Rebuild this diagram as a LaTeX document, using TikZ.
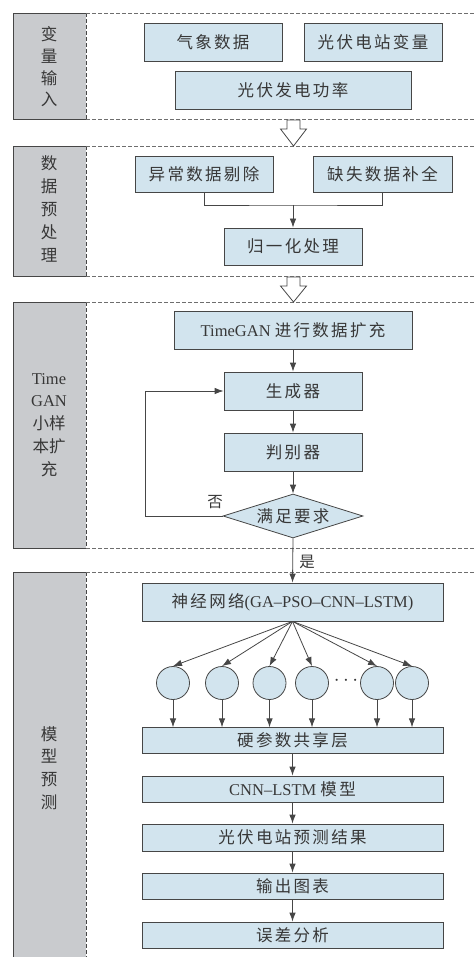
\documentclass[tikz,border=0pt]{standalone}
\usepackage{fontspec}
\setmainfont{Liberation Serif}
\newfontfamily\cjk[LetterSpace=14]{Noto Sans CJK SC}
\newfontfamily\cjks{Noto Sans CJK SC}
\usetikzlibrary{arrows.meta,shapes.geometric,calc}
\definecolor{boxblue}{RGB}{210,228,238}
\definecolor{sidegray}{RGB}{201,203,206}
\definecolor{linec}{RGB}{70,70,70}
\definecolor{dashc}{RGB}{110,110,110}
\definecolor{txt}{RGB}{55,55,55}
\begin{document}
\begin{tikzpicture}[x=1pt,y=-1pt,
  box/.style={draw=linec,fill=boxblue,line width=0.8pt,inner sep=0pt,text=txt,font=\fontsize{16.5}{20}\selectfont},
  arr/.style={draw=linec,line width=0.8pt,-{Latex[length=9pt,width=6.5pt]}},
  ln/.style={draw=linec,line width=0.8pt},
  dl/.style={draw=dashc,line width=0.7pt,dash pattern=on 4pt off 2pt},
  circ/.style={circle,draw=linec,fill=boxblue,line width=0.8pt,minimum size=33pt,inner sep=0pt},
  lbl/.style={text=txt,align=center,inner sep=0pt,font=\fontsize{16.5}{22.8}\selectfont},
  clbl/.style={text=txt,align=center,inner sep=0pt,font=\cjks\fontsize{16.5}{22.8}\selectfont},
  hollow/.style={draw=linec,fill=white,line width=0.8pt,line join=miter},
]
\useasboundingbox (0,0) rectangle (475,957);
% section frames
\foreach \t/\b in {13/119,146/276,302/548}{
  \fill[sidegray] (13,\t) rectangle (86,\b);
  \draw[ln] (86,\t) -- (13,\t) -- (13,\b) -- (86,\b);
  \draw[dl,draw=linec] (86,\t) -- (86,\b);
  \draw[dl] (86,\t) -- (475,\t);
  \draw[dl] (86,\b) -- (475,\b);
}
\fill[sidegray] (13,572) rectangle (86,957);
\draw[ln] (86,572) -- (13,572) -- (13,957);
\draw[dl,draw=linec] (86,572) -- (86,957);
\draw[dl] (86,572) -- (475,572);
% sidebar labels
\node[clbl,font=\cjks\fontsize{16.5}{21.7}\selectfont] (s1) at (49,67) {变\\量\\输\\入};
\node[clbl] (s2) at (49,209) {数\\据\\预\\处\\理};
\node[lbl] (s3) at (49,425) {Time\\GAN\\{\cjks 小样}\\{\cjks 本扩}\\{\cjks 充}};
\node[clbl] (s4) at (49,768) {模\\型\\预\\测};
% section 1
\node[box,minimum width=138pt,minimum height=38pt] (qx) at (213,42) {\cjk 气象数据};
\node[box,minimum width=138pt,minimum height=38pt] (gz) at (373,42) {\cjk 光伏电站变量};
\node[box,minimum width=236pt,minimum height=38pt] (gl) at (293,90) {\cjk 光伏发电功率};
% hollow arrows
\draw[hollow] (287,120) -- (300,120) -- (300,129) -- (306.5,129) -- (293.5,146) -- (280.5,129) -- (287,129) -- cycle;
\draw[hollow] (287,277) -- (300,277) -- (300,286) -- (306.5,286) -- (293.5,302) -- (280.5,286) -- (287,286) -- cycle;
% section 2
\node[box,minimum width=138pt,minimum height=36pt] (yc) at (204,174) {\cjk 异常数据剔除};
\node[box,minimum width=139pt,minimum height=36pt] (qs) at (382.5,174) {\cjk 缺失数据补全};
\node[box,minimum width=138pt,minimum height=37pt] (gy) at (293,246.5) {\cjk 归一化处理};
\coordinate (mj) at (293,205);
\draw[ln] (yc.south) |- (mj) -| (qs.south);
\draw[arr] (mj) -- (gy.north);
% section 3
\node[box,minimum width=238pt,minimum height=38pt] (tg) at (293,330) {TimeGAN {\cjk 进行数据扩充}};
\node[box,minimum width=138pt,minimum height=38pt] (sc) at (293,391) {\cjk 生成器};
\node[box,minimum width=138pt,minimum height=38pt] (pb) at (293,452) {\cjk 判别器};
\node[diamond,draw=linec,fill=boxblue,line width=0.8pt,inner sep=0pt,aspect=3.2,minimum width=140pt,minimum height=44pt,text=txt,font=\fontsize{16.5}{20}\selectfont] (dm) at (293,516) {\cjk 满足要求};
\draw[arr] (tg.south) -- (sc.north);
\draw[arr] (sc.south) -- (pb.north);
\draw[arr] (pb.south) -- (dm.north);
\coordinate (fb) at (145,516);
\draw[arr] (dm.west) -- (fb) |- (sc.west);
\node[clbl,font=\cjks\fontsize{15.5}{18}\selectfont] (no) at (215,502) {否};
% section 4
\node[box,minimum width=301pt,minimum height=38pt] (nn) at (292.5,602) {{\cjk 神经网络}(GA–PSO–CNN–LSTM)};
\draw[arr] (dm.south) -- (nn.north);
\node[clbl,font=\cjks\fontsize{15.5}{18}\selectfont] (yes) at (307,562) {是};
\node[circ] (c1) at (173,683) {};
\node[circ] (c2) at (222,683) {};
\node[circ] (c3) at (269.5,683) {};
\node[circ] (c4) at (312,683) {};
\node[circ] (c5) at (377,683) {};
\node[circ] (c6) at (412,683) {};
\node[lbl,font=\fontsize{20}{20}\selectfont] (dots) at (346,681) {$\cdots$};
\node[box,minimum width=301pt,minimum height=25.5pt] (hp) at (292.5,740.5) {\cjk 硬参数共享层};
\node[box,minimum width=301pt,minimum height=26pt] (cl) at (292.5,789) {CNN–LSTM {\cjk 模型}};
\node[box,minimum width=301pt,minimum height=27pt] (jg) at (292.5,837.5) {\cjk 光伏电站预测结果};
\node[box,minimum width=301pt,minimum height=26pt] (tb) at (292.5,886) {\cjk 输出图表};
\node[box,minimum width=301pt,minimum height=26pt] (wc) at (292.5,935) {\cjk 误差分析};
\foreach \i in {1,...,6}{
  \draw[arr] (nn.south) -- (c\i.north);
  \draw[arr] (c\i.south) -- (c\i.south |- hp.north);
}
\draw[arr] (hp.south) -- (cl.north);
\draw[arr] (cl.south) -- (jg.north);
\draw[arr] (jg.south) -- (tb.north);
\draw[arr] (tb.south) -- (wc.north);
\end{tikzpicture}
\end{document}
